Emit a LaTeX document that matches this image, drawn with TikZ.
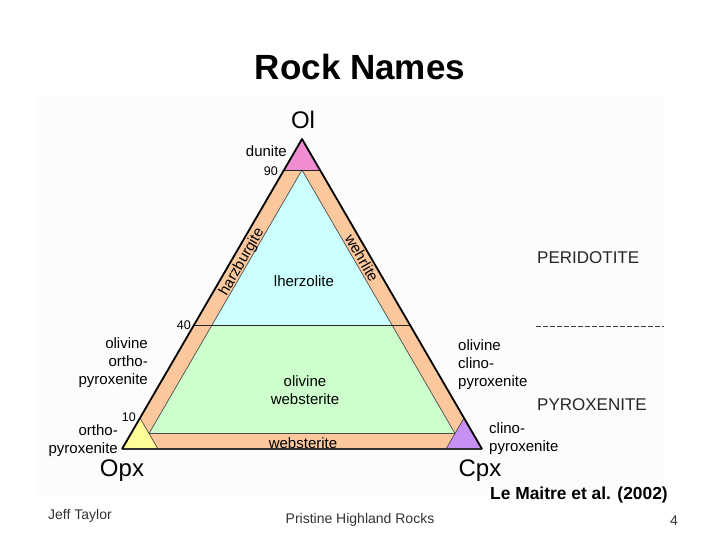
\documentclass[tikz,border=0pt]{standalone}
\usepackage{fontspec}
\setmainfont{Liberation Sans}
\begin{document}
\begin{tikzpicture}[x=1pt,y=-1pt,
  lbl/.style={inner sep=0pt,font=\fontsize{15}{18}\selectfont},
  apexlbl/.style={inner sep=0pt,font=\fontsize{24}{28}\selectfont},
  tick/.style={inner sep=0pt,font=\fontsize{12.5}{14}\selectfont},
  foot/.style={inner sep=0pt,font=\fontsize{14}{16}\selectfont,text=black!80},
  thinln/.style={draw=black!70,line width=0.7pt},
  edge/.style={draw=black,line width=1.8pt,line join=round}]
\useasboundingbox (0,0) rectangle (720,540);
\fill[black!1.2] (35,96) rectangle (663,495);
\definecolor{band}{HTML}{FAC89C}
\definecolor{lherz}{HTML}{CCFFFF}
\definecolor{webst}{HTML}{CCFFCC}
\definecolor{dun}{HTML}{F08CD2}
\definecolor{opxc}{HTML}{FFFF99}
\definecolor{cpxc}{HTML}{C890F5}
% corners
\coordinate (ol) at (302,139);
\coordinate (opx) at (122,449);
\coordinate (cpx) at (482,449);
% derived points
\coordinate (d1) at (barycentric cs:ol=0.9,opx=0.1);
\coordinate (d2) at (barycentric cs:ol=0.9,cpx=0.1);
\coordinate (y1) at (barycentric cs:ol=0.1,opx=0.9);
\coordinate (y2) at (barycentric cs:opx=0.9,cpx=0.1);
\coordinate (p1) at (barycentric cs:opx=0.1,cpx=0.9);
\coordinate (p2) at (barycentric cs:ol=0.1,cpx=0.9);
\coordinate (ia) at (barycentric cs:ol=0.9,opx=0.05,cpx=0.05);
\coordinate (il) at (barycentric cs:ol=0.4,opx=0.55,cpx=0.05);
\coordinate (ir) at (barycentric cs:ol=0.4,opx=0.05,cpx=0.55);
\coordinate (ibl) at (barycentric cs:ol=0.05,opx=0.9,cpx=0.05);
\coordinate (ibr) at (barycentric cs:ol=0.05,opx=0.05,cpx=0.9);
\coordinate (f1) at (barycentric cs:ol=0.4,opx=0.6);
\coordinate (f2) at (barycentric cs:ol=0.4,cpx=0.6);
% fills
\fill[band] (ol) -- (opx) -- (cpx) -- cycle;
\fill[lherz] (ia) -- (il) -- (ir) -- cycle;
\fill[webst] (il) -- (ir) -- (ibr) -- (ibl) -- cycle;
\fill[dun] (ol) -- (d1) -- (d2) -- cycle;
\fill[opxc] (opx) -- (y1) -- (y2) -- cycle;
\fill[cpxc] (cpx) -- (p1) -- (p2) -- cycle;
% inner lines
\draw[thinln] (y1) -- (y2);
\draw[thinln] (p1) -- (p2);
\draw[thinln] (ibl) -- (ia) -- (ibr);
\draw[thinln] (ibl) -- (ibr);
\draw[draw=black!85,line width=0.9pt] (d1) -- (d2);
\draw[draw=black!85,line width=0.9pt] (f1) -- (f2);
% outline
\draw[draw=black!80,line width=1.1pt] (opx) -- (cpx);
\draw[edge] (cpx) -- (ol) -- (opx);
% title
\node[inner sep=0pt,font=\fontsize{35}{40}\selectfont\bfseries] (title) at (360,67) {Rock Names};
% apex labels
\node[apexlbl] (lol) at (303,120) {Ol};
\node[apexlbl] (lopx) at (122,471) {Opx};
\node[apexlbl] (lcpx) at (480,471) {Cpx};
% ticks
\node[tick,anchor=east] (t90) at (278,171) {90};
\node[tick,anchor=east] (t40) at (191,325) {40};
\node[tick,anchor=east] (t10) at (136,417) {10};
% field names
\node[lbl,anchor=east] (ldun) at (287,151) {dunite};
\node[lbl,rotate=60] (lharz) at (242,262) {harzburgite};
\node[lbl,rotate=-60] (lwehr) at (362,258) {wehrlite};
\node[lbl] (llherz) at (304,281) {lherzolite};
\node[lbl,align=center] (lolweb) at (305,390) {olivine\\websterite};
\node[lbl] (lweb) at (303,443) {websterite};
\node[lbl,align=right,anchor=east] (lolopx) at (148,363) {olivine\\ortho-\\pyroxenite};
\node[lbl,align=right,anchor=east] (lopxn) at (118,441) {ortho-\\pyroxenite};
\node[lbl,align=left,anchor=west] (lolcpx) at (458,365) {olivine\\clino-\\pyroxenite};
\node[lbl,align=left,anchor=west] (lcpxn) at (489,439) {clino-\\pyroxenite};
% right side
\node[inner sep=0pt,anchor=west,font=\fontsize{17}{20}\selectfont,text=black!85] (lper) at (537,258) {PERIDOTITE};
\node[inner sep=0pt,anchor=west,font=\fontsize{17}{20}\selectfont,text=black!85] (lpyr) at (537,405) {PYROXENITE};
\coordinate (ds1) at (536,326);
\coordinate (ds2) at (664,326);
\draw[black!75,line width=0.8pt,dash pattern=on 4.5pt off 2.5pt] (ds1) -- (ds2);
% citation and footer
\node[inner sep=0pt,anchor=east,font=\fontsize{17.4}{20}\selectfont\bfseries] (cite) at (668,495) {Le Maitre et al. (2002)};
\node[foot,anchor=west] (fa) at (48,516) {Jeff Taylor};
\node[foot] (fb) at (360,520) {Pristine Highland Rocks};
\node[foot,anchor=east] (fc) at (678,521) {4};
\end{tikzpicture}
\end{document}
